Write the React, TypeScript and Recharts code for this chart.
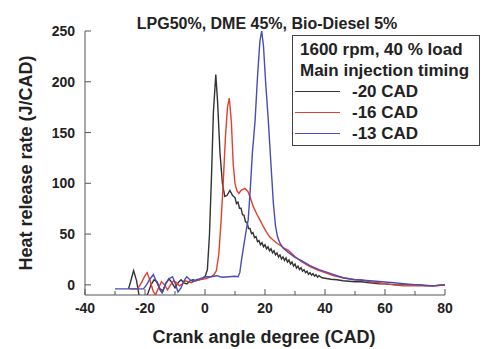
import { LineChart, Line, XAxis, YAxis, Legend } from "recharts";

const seriesNames = ["-20 CAD", "-16 CAD", "-13 CAD"];
const seriesColors = ["#333333", "#e2412b", "#4b4bb8"];

// crank angle (CAD), heat release rate (J/CAD)
const cad20: [number, number][] = [
  [-25.5, -4], [-24.8, 3], [-23.8, 14], [-22.8, 4], [-22, -10], [-21, -14], [-20, -14], [-19, -8],
  [-18, 0], [-17, 5], [-16, 3], [-15, -4], [-14, -6], [-13, 2], [-12, 6], [-11, 2], [-10, -3],
  [-9, 2], [-8, 5], [-7, 2], [-6, 1], [-5, 4], [-4, 5], [-3, 4], [-2, 5], [-1, 6], [0, 8],
  [0.8, 15], [1.5, 50], [2.2, 110], [2.8, 170], [3.6, 207], [4.2, 180], [5, 130], [5.8, 100],
  [6.6, 87], [7.3, 88], [8.3, 93], [9.2, 88], [10, 86], [10.5, 80], [11, 81.5], [11.5, 75.5],
  [12, 75.5], [12.5, 69], [13, 68.5], [13.5, 62], [14, 61.5], [14.5, 55.5], [15, 55.5],
  [15.5, 50.5], [16, 51.5], [16.5, 46.5], [17, 47.5], [17.5, 42.5], [18, 43.5], [18.5, 39.5],
  [19, 41.5], [19.5, 37.5], [20, 39.5], [20.5, 35.5], [21, 37.5], [21.5, 33.5], [22, 35.5],
  [22.5, 31.5], [23, 33.5], [23.5, 29.5], [24, 31.5], [24.5, 27.5], [25, 29.5], [25.5, 25.5],
  [26, 27.5], [26.5, 24], [27, 26.5], [27.5, 22.5], [28, 24.5], [28.5, 20.5], [29, 22.5],
  [29.5, 18.5], [30, 20.5], [30.5, 16.5], [31, 18.5], [31.5, 15], [32, 17], [32.5, 13.5],
  [33, 15], [33.5, 12], [34, 13.5], [34.5, 10.5], [35, 12], [35.5, 9.5], [36, 11], [36.5, 8.5],
  [37, 10], [37.5, 7.5], [38, 9], [39, 7], [40, 6.5], [42, 5.5], [44, 5], [46, 4], [48, 3.5],
  [50, 3], [52, 3], [55, 2], [58, 1], [60, 1], [64, 0], [68, 0], [72, 0], [76, -1], [80, 0],
];

const cad16: [number, number][] = [
  [-25, -4], [-22.5, -4], [-21.2, 2], [-20, 9], [-19.3, 12], [-18.3, 4], [-17.3, -6], [-16.5, -10],
  [-15.5, -3], [-14.5, 3], [-13.5, 0], [-12.5, -5], [-11.5, 0], [-10.5, 4], [-9.5, 2], [-8.5, -1],
  [-7.5, 1], [-6.5, 4], [-5.5, 3], [-4.5, 2], [-3.5, 4], [-2, 5], [0, 6], [1, 7], [2, 8], [3, 10],
  [3.8, 14], [4.6, 30], [5.3, 60], [6, 96], [6.8, 145], [7.5, 175], [8.1, 184], [8.8, 160],
  [9.4, 119], [10, 100], [10.6, 93], [11.3, 90], [12, 93], [13.3, 95], [14.3, 92], [15.2, 85],
  [16.1, 77], [17.2, 70], [18.3, 64], [19.5, 57], [20.5, 52], [21.6, 47], [22.8, 44], [24, 41],
  [25, 39], [26.5, 36], [27.8, 34], [30, 28], [32, 23], [35, 18], [38, 14], [40, 12], [43, 9],
  [46, 7], [50, 5], [52, 5], [55, 3], [58, 2], [60, 1], [63, 0], [66, -1], [68, -1], [72, -1],
  [76, -1], [78, 0], [80, 0],
];

const cad13: [number, number][] = [
  [-30, -4], [-20.5, -4], [-19.5, 0], [-18.3, 6], [-17.2, 10], [-16, 2], [-15, -5], [-14.3, -8],
  [-13.3, 0], [-12, 6], [-10.8, 8], [-9.8, 0], [-9, -7], [-8, -3], [-7, 4], [-6.1, 8], [-5, 5],
  [-4, 3], [-2.8, 5], [-1.5, 6], [0, 8], [2, 8], [4, 9], [5, 8], [6, 7.5], [8, 8], [10, 8.5],
  [11, 8], [11.6, 12], [12.2, 25], [13, 40], [13.8, 55], [14.4, 64], [15, 90], [15.8, 130],
  [16.7, 162], [17.5, 205], [18.3, 240], [18.9, 250], [19.5, 235], [20.2, 200], [21.1, 162],
  [22, 118], [22.8, 80], [23.5, 58], [24.2, 47], [25, 41], [26.1, 36], [27.8, 32], [30, 27],
  [32, 24], [35, 19], [38, 15], [40, 13], [43, 10], [46, 7], [50, 5], [55, 4], [59, 3], [63, 2],
  [67, 1], [71, 0], [74, -1], [77, -1], [80, 0],
];

const xTicks = [-40, -30, -20, -10, 0, 10, 20, 30, 40, 50, 60, 70, 80];
const yTicks = [0, 50, 100, 150, 200, 250];
const legendHeader = ["1600 rpm, 40 % load", "Main injection timing"];

const toPts = (arr: [number, number][]) => arr.map(([x, y]) => ({ x, y }));
const seriesData = [toPts(cad20), toPts(cad16), toPts(cad13)];

const FONT = '"Liberation Sans", Arial, sans-serif';
const TEXT = "#222";
const AXIS = "#555";

function XTick(props: any) {
  const { x, y, payload } = props;
  const major = payload.value % 20 === 0;
  return (
    <g>
      <line x1={x} x2={x} y1={y} y2={y - (major ? 6 : 4)} stroke={AXIS} strokeWidth={1} />
      {major && (
        <text x={x} y={y + 18} textAnchor="middle" fontFamily={FONT} fontWeight="bold" fontSize={14} fill={TEXT}>
          {payload.value}
        </text>
      )}
    </g>
  );
}

function YTick(props: any) {
  const { x, y, payload } = props;
  return (
    <g>
      <line x1={x} x2={x + 6} y1={y} y2={y} stroke={AXIS} strokeWidth={1} />
      <text x={x - 10} y={y + 5} textAnchor="end" fontFamily={FONT} fontWeight="bold" fontSize={14} fill={TEXT}>
        {payload.value}
      </text>
    </g>
  );
}

function LegendBox() {
  const row = { height: 21, lineHeight: "21px", whiteSpace: "nowrap" as const };
  return (
    <div
      style={{
        boxSizing: "border-box",
        width: 188,
        height: 111,
        border: "1px solid #444",
        background: "#fff",
        padding: "3px 0 0 7px",
        fontFamily: FONT,
        fontWeight: "bold",
        fontSize: 17,
        color: TEXT,
      }}
    >
      {legendHeader.map((h) => (
        <div key={h} style={row}>{h}</div>
      ))}
      {seriesNames.map((name, i) => (
        <div key={name} style={{ ...row, display: "flex", alignItems: "center", marginLeft: -5 }}>
          <span style={{ display: "inline-block", width: 45, height: 0, borderTop: `1.5px solid ${seriesColors[i]}`, marginRight: 12 }} />
          {name}
        </div>
      ))}
    </div>
  );
}

export default function App() {
  return (
    <div style={{ position: "absolute", left: 0, top: 0, width: 483, height: 349, background: "#fff" }}>
      <LineChart width={483} height={349} margin={{ top: 31, right: 38, bottom: 24, left: 40 }}>
        <XAxis
          type="number"
          dataKey="x"
          domain={[-40, 80]}
          ticks={xTicks}
          allowDataOverflow
          height={30}
          tickSize={0}
          tickMargin={0}
          tickLine={false}
          tick={<XTick />}
          stroke={AXIS}
          interval={0}
        />
        <XAxis xAxisId="top" orientation="top" type="number" domain={[-40, 80]} height={0} tick={false} tickLine={false} stroke={AXIS} />
        <YAxis
          type="number"
          domain={[-10, 250]}
          ticks={yTicks}
          allowDataOverflow
          width={45}
          tickSize={0}
          tickMargin={0}
          tickLine={false}
          tick={<YTick />}
          stroke={AXIS}
          interval={0}
        />
        <YAxis yAxisId="right" orientation="right" domain={[-10, 250]} width={0} tick={false} tickLine={false} stroke={AXIS} />
        {seriesNames.map((name, i) => (
          <Line
            key={name}
            name={name}
            data={seriesData[i]}
            dataKey="y"
            type="linear"
            stroke={seriesColors[i]}
            strokeWidth={1.4}
            dot={false}
            activeDot={false}
            isAnimationActive={false}
          />
        ))}
        <Legend
          layout="vertical"
          align="center"
          verticalAlign="middle"
          content={() => <LegendBox />}
          wrapperStyle={{ position: "absolute", left: 292, top: 35, width: 188, height: 111 }}
        />
      </LineChart>
      <svg width={483} height={349} style={{ position: "absolute", left: 0, top: 0, pointerEvents: "none" }}>
        <text x={267} y={29} textAnchor="middle" fontFamily={FONT} fontWeight="bold" fontSize={16} fill={TEXT}>
          LPG50%, DME 45%, Bio-Diesel 5%
        </text>
        <text x={264} y={343} textAnchor="middle" fontFamily={FONT} fontWeight="bold" fontSize={18} fill={TEXT}>
          Crank angle degree (CAD)
        </text>
        <text
          x={32}
          y={163}
          transform="rotate(-90 32 163)"
          textAnchor="middle"
          fontFamily={FONT}
          fontWeight="bold"
          fontSize={18}
          fill={TEXT}
        >
          Heat release rate (J/CAD)
        </text>
      </svg>
    </div>
  );
}
